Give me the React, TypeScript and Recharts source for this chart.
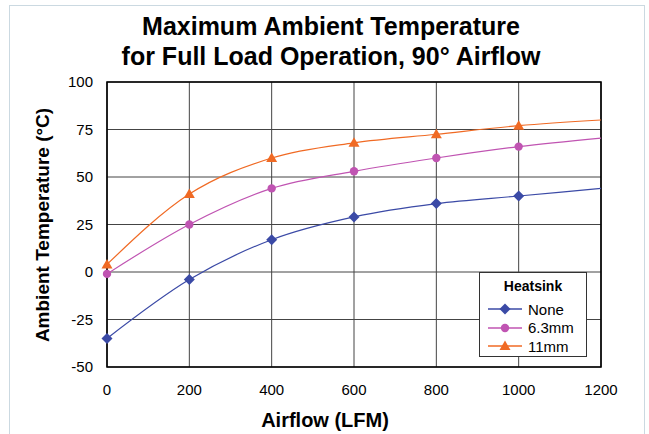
import React from "react";
import {
  LineChart,
  Line,
  XAxis,
  YAxis,
  CartesianGrid,
  ReferenceArea,
} from "recharts";

const airflow = [0, 200, 400, 600, 800, 1000, 1200];
const noneSink = [-35, -4, 17, 29, 36, 40, 44];
const sink63 = [-1, 25, 44, 53, 60, 66, 70.5];
const sink11 = [4, 41, 60, 68, 72.5, 77, 80];
const xTicks = [0, 200, 400, 600, 800, 1000, 1200];
const yTicks = [-50, -25, 0, 25, 50, 75, 100];
// the last point only carries the line to the edge, no marker
const markerMax = 1000;

const data = airflow.map((a, i) => ({
  airflow: a,
  none: noneSink[i],
  mm63: sink63[i],
  mm11: sink11[i],
}));

const FONT = '"Liberation Sans", Arial, Helvetica, sans-serif';
const BLUE = "#3b4aa6";
const PINK = "#c054b2";
const ORANGE = "#f06a24";

const Diamond = ({ cx, cy, color }: { cx: number; cy: number; color: string }) => (
  <path d={`M${cx},${cy - 5.5} L${cx + 5.5},${cy} L${cx},${cy + 5.5} L${cx - 5.5},${cy} Z`} fill={color} />
);
const Circle = ({ cx, cy, color }: { cx: number; cy: number; color: string }) => (
  <circle cx={cx} cy={cy} r={4.2} fill={color} />
);
const Triangle = ({ cx, cy, color }: { cx: number; cy: number; color: string }) => (
  <path d={`M${cx},${cy - 5.5} L${cx + 5.5},${cy + 4} L${cx - 5.5},${cy + 4} Z`} fill={color} />
);

function makeDot(Shape: any, color: string) {
  return (props: any) => {
    const { cx, cy, payload, index } = props;
    if (payload.airflow > markerMax) return <g key={`d${index}`} />;
    return <Shape key={`d${index}`} cx={cx} cy={cy} color={color} />;
  };
}

const legendItems = [
  { name: "None", color: BLUE, Shape: Diamond },
  { name: "6.3mm", color: PINK, Shape: Circle },
  { name: "11mm", color: ORANGE, Shape: Triangle },
];

export default function App() {
  return (
    <div style={{ position: "absolute", left: 0, top: 0, width: 649, height: 434, background: "#fff", fontFamily: FONT }}>
      <div
        style={{
          position: "absolute",
          left: 9,
          top: 5,
          width: 636,
          height: 440,
          border: "1.5px solid #cbd9e1",
          boxSizing: "border-box",
        }}
      />
      <div
        style={{
          position: "absolute",
          left: 0,
          top: 11,
          width: 662,
          textAlign: "center",
          fontWeight: "bold",
          fontSize: 25,
          lineHeight: "30px",
          color: "#000",
        }}
      >
        Maximum Ambient Temperature
        <br />
        for Full Load Operation, 90° Airflow
      </div>
      <LineChart
        width={649}
        height={434}
        data={data}
        margin={{ top: 82, right: 48, bottom: 0, left: 0 }}
        style={{ position: "absolute", left: 0, top: 0 }}
      >
        <CartesianGrid stroke="#444" strokeWidth={1} />
        <XAxis
          dataKey="airflow"
          type="number"
          domain={[0, 1200]}
          ticks={xTicks}
          axisLine={false}
          tickLine={false}
          tickSize={6}
          tickMargin={11}
          height={67}
          tick={{ fontSize: 15, fill: "#000", fontFamily: FONT }}
        />
        <YAxis
          type="number"
          domain={[-50, 100]}
          ticks={yTicks}
          axisLine={false}
          tickLine={false}
          tickSize={6}
          tickMargin={8}
          width={107}
          tick={{ fontSize: 15, fill: "#000", fontFamily: FONT }}
        />
        <Line
          type="monotone"
          dataKey="none"
          stroke={BLUE}
          strokeWidth={1.2}
          dot={makeDot(Diamond, BLUE)}
          isAnimationActive={false}
        />
        <Line
          type="monotone"
          dataKey="mm63"
          stroke={PINK}
          strokeWidth={1.2}
          dot={makeDot(Circle, PINK)}
          isAnimationActive={false}
        />
        <Line
          type="monotone"
          dataKey="mm11"
          stroke={ORANGE}
          strokeWidth={1.2}
          dot={makeDot(Triangle, ORANGE)}
          isAnimationActive={false}
        />
        <ReferenceArea x1={0} x2={1200} y1={-50} y2={100} fill="none" stroke="#000" strokeWidth={1.6} ifOverflow="visible" />
      </LineChart>
      <div
        style={{
          position: "absolute",
          left: 43,
          top: 225,
          transform: "translate(-50%, -50%) rotate(-90deg)",
          whiteSpace: "nowrap",
          fontWeight: "bold",
          fontSize: 19,
        }}
      >
        Ambient Temperature (°C)
      </div>
      <div
        style={{
          position: "absolute",
          left: 325,
          top: 420,
          transform: "translate(-50%, -50%)",
          whiteSpace: "nowrap",
          fontWeight: "bold",
          fontSize: 20,
        }}
      >
        Airflow (LFM)
      </div>
      <div
        style={{
          position: "absolute",
          left: 479,
          top: 272,
          width: 108,
          height: 85,
          border: "1px solid #333",
          background: "#fff",
          boxSizing: "border-box",
        }}
      >
        <div style={{ textAlign: "center", fontWeight: "bold", fontSize: 14, marginTop: 5, lineHeight: "16px" }}>Heatsink</div>
        {legendItems.map((it, i) => (
          <div key={it.name} style={{ position: "absolute", left: 8, top: 27 + i * 18.5, height: 18, display: "flex", alignItems: "center" }}>
            <svg width={34} height={14}>
              <line x1={0} y1={7} x2={34} y2={7} stroke={it.color} strokeWidth={1.5} />
              <it.Shape cx={17} cy={7} color={it.color} />
            </svg>
            <span style={{ fontSize: 15, marginLeft: 6 }}>{it.name}</span>
          </div>
        ))}
      </div>
    </div>
  );
}
